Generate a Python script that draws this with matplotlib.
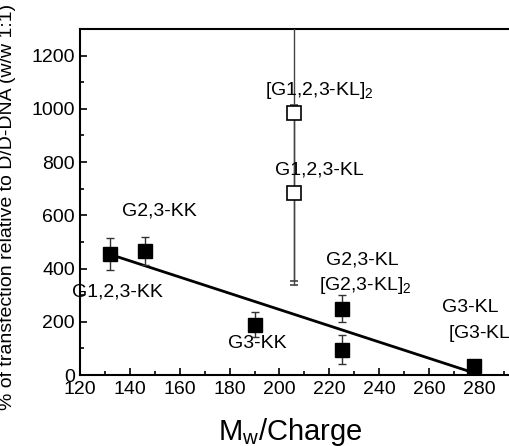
import numpy as np
import matplotlib.pyplot as plt
from matplotlib.ticker import MultipleLocator

plt.rcParams['font.family'] = ['Liberation Sans', 'DejaVu Sans']
plt.rcParams['mathtext.fontset'] = 'custom'
plt.rcParams['mathtext.rm'] = 'Liberation Sans'

# filled points (KK / KL series)
x_fill = [132, 146, 190, 225, 225, 278]
y_fill = [455, 465, 190, 250, 95, 34]
err_fill = [60, 52, 48, 50, 55, 0]

# open points (G1,2,3-KL and dimer)
x_open = [206, 206]
y_open = [685, 985]
err_open = [330, 645]

labels = ["G2,3-KK", "G1,2,3-KK", "G3-KK", r"[G1,2,3-KL]$_2$", "G1,2,3-KL",
          "G2,3-KL", r"[G2,3-KL]$_2$", "G3-KL", r"[G3-KL]$_2$"]
label_x = [152, 135, 191, 216, 216, 233, 234.5, 276.5, 283]
label_y = [615, 311, 120, 1068, 769, 431, 337, 255, 157]

fig = plt.figure(figsize=(5.09, 4.46), dpi=100)
ax = fig.add_axes([0.157, 0.159, 0.843, 0.776])

# linear fit through filled points
p = np.polyfit(x_fill, y_fill, 1)
xf = np.array([min(x_fill), max(x_fill)])
ax.plot(xf, np.polyval(p, xf), 'k-', lw=2, zorder=2)

ax.errorbar(x_open, y_open, yerr=err_open, fmt='s', ms=10, mfc='white', mec='black',
            mew=1.2, ecolor='#444444', elinewidth=1, capsize=3, zorder=3)
ax.errorbar(x_fill, y_fill, yerr=err_fill, fmt='s', ms=10, color='black',
            ecolor='#333333', elinewidth=1, capsize=3, zorder=4)

for t, lx, ly in zip(labels, label_x, label_y):
    ax.text(lx, ly, t, ha='center', va='center', fontsize=14)

ax.set_xlim(120, 292)
ax.set_ylim(0, 1300)
ax.xaxis.set_major_locator(MultipleLocator(20))
ax.xaxis.set_minor_locator(MultipleLocator(10))
ax.yaxis.set_major_locator(MultipleLocator(200))
ax.yaxis.set_minor_locator(MultipleLocator(100))
ax.tick_params(which='both', direction='in', labelsize=14, width=1.2)
ax.tick_params(which='major', length=5)
ax.tick_params(which='minor', length=3)
ax.tick_params(axis='x', pad=4)
ax.spines['right'].set_visible(False)
for s in ['left', 'top', 'bottom']:
    ax.spines[s].set_linewidth(1.5)

ax.set_xlabel(r"M$_\mathregular{w}$/Charge", fontsize=21)
ax.xaxis.set_label_coords(0.49, -0.118)
ax.set_ylabel("% of transfection relative to D/D-DNA (w/w 1:1)", fontsize=14)
ax.yaxis.set_label_coords(-0.148, 0.485)

fig.savefig('out.png', dpi=100)
